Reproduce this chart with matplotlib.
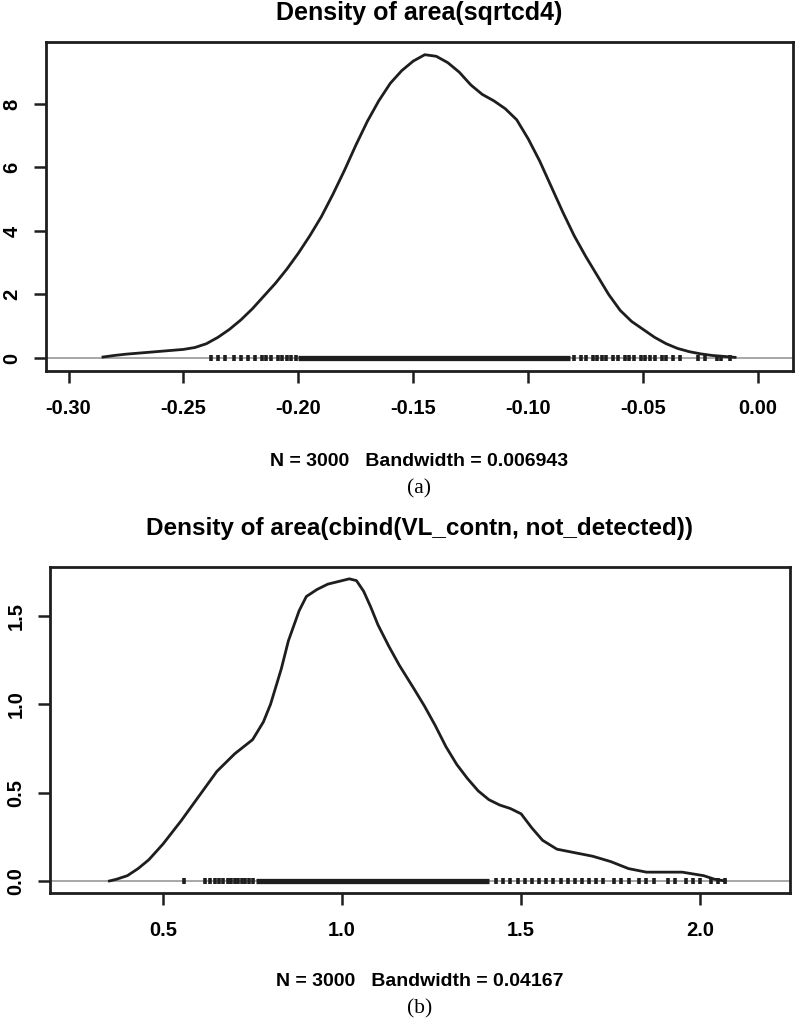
import matplotlib
matplotlib.use("Agg")
import matplotlib.pyplot as plt
import numpy as np

# ---------------- data ----------------
a_x = [-0.285, -0.28, -0.275, -0.27, -0.265, -0.26, -0.255, -0.25, -0.245, -0.24,
       -0.235, -0.23, -0.225, -0.22, -0.215, -0.21, -0.205, -0.20, -0.195, -0.19,
       -0.185, -0.18, -0.175, -0.17, -0.165, -0.16, -0.155, -0.15, -0.145, -0.14,
       -0.135, -0.13, -0.125, -0.12, -0.115, -0.11, -0.105, -0.10, -0.095, -0.09,
       -0.085, -0.08, -0.075, -0.07, -0.065, -0.06, -0.055, -0.05, -0.045, -0.04,
       -0.035, -0.03, -0.025, -0.02, -0.015, -0.01]
a_y = [0.03, 0.08, 0.12, 0.15, 0.18, 0.21, 0.24, 0.27, 0.33, 0.45,
       0.65, 0.90, 1.20, 1.55, 1.95, 2.35, 2.80, 3.30, 3.85, 4.45,
       5.15, 5.90, 6.70, 7.45, 8.10, 8.65, 9.05, 9.35, 9.55, 9.50,
       9.30, 9.00, 8.60, 8.30, 8.10, 7.85, 7.50, 6.90, 6.20, 5.40,
       4.60, 3.85, 3.20, 2.60, 2.00, 1.50, 1.15, 0.90, 0.65, 0.45,
       0.30, 0.20, 0.13, 0.08, 0.05, 0.02]
a_rug_dense = (-0.200, -0.082)
a_rug_sparse = [-0.238, -0.235, -0.232, -0.228, -0.225, -0.222, -0.219, -0.216,
                -0.214, -0.212, -0.209, -0.207, -0.205, -0.203, -0.201,
                -0.080, -0.077, -0.075, -0.072, -0.070, -0.068, -0.066, -0.063,
                -0.061, -0.058, -0.056, -0.054, -0.051, -0.049, -0.047, -0.045,
                -0.042, -0.040, -0.037, -0.034, -0.026, -0.023, -0.018, -0.016,
                -0.012]
a_xticks = [-0.30, -0.25, -0.20, -0.15, -0.10, -0.05, 0.00]
a_xticklabels = ["-0.30", "-0.25", "-0.20", "-0.15", "-0.10", "-0.05", "0.00"]
a_yticks = [0, 2, 4, 6, 8]
a_yticklabels = ["0", "2", "4", "6", "8"]
a_title = "Density of area(sqrtcd4)"
a_xlabel = "N = 3000   Bandwidth = 0.006943"
a_caption = "(a)"

b_x = [0.35, 0.37, 0.40, 0.43, 0.46, 0.50, 0.55, 0.60, 0.65, 0.70,
       0.75, 0.78, 0.80, 0.83, 0.85, 0.88, 0.90, 0.93, 0.96, 1.00,
       1.02, 1.04, 1.06, 1.08, 1.10, 1.13, 1.16, 1.20, 1.23, 1.26,
       1.29, 1.32, 1.35, 1.38, 1.41, 1.44, 1.47, 1.50, 1.53, 1.56,
       1.60, 1.65, 1.70, 1.75, 1.80, 1.85, 1.90, 1.95, 1.98, 2.01,
       2.04, 2.07]
b_y = [0.00, 0.01, 0.03, 0.07, 0.12, 0.21, 0.34, 0.48, 0.62, 0.72,
       0.80, 0.90, 1.00, 1.20, 1.36, 1.53, 1.61, 1.65, 1.68, 1.70,
       1.71, 1.70, 1.64, 1.55, 1.45, 1.33, 1.22, 1.09, 0.99, 0.88,
       0.76, 0.66, 0.58, 0.51, 0.46, 0.43, 0.41, 0.38, 0.30, 0.23,
       0.18, 0.16, 0.14, 0.11, 0.07, 0.05, 0.05, 0.05, 0.04, 0.03,
       0.01, 0.00]
b_rug_dense = (0.76, 1.41)
b_rug_sparse = [0.559, 0.617, 0.630, 0.645, 0.655, 0.668, 0.680, 0.690, 0.700,
                0.710, 0.720, 0.730, 0.740, 0.750,
                1.43, 1.45, 1.47, 1.49, 1.51, 1.53, 1.55, 1.57, 1.59, 1.61,
                1.63, 1.65, 1.67, 1.69, 1.71, 1.73, 1.76, 1.78, 1.80, 1.83,
                1.85, 1.87, 1.91, 1.93, 1.96, 1.98, 2.00, 2.03, 2.05, 2.07]
b_xticks = [0.5, 1.0, 1.5, 2.0]
b_xticklabels = ["0.5", "1.0", "1.5", "2.0"]
b_yticks = [0.0, 0.5, 1.0, 1.5]
b_yticklabels = ["0.0", "0.5", "1.0", "1.5"]
b_title = "Density of area(cbind(VL_contn, not_detected))"
b_xlabel = "N = 3000   Bandwidth = 0.04167"
b_caption = "(b)"

# ---------------- style ----------------
SANS = ["Liberation Sans", "DejaVu Sans"]
SERIF = ["Liberation Serif", "DejaVu Serif"]
INK = "#1e1e1e"

fig = plt.figure(figsize=(7.96, 10.24), dpi=100)


def panel(rect, xs, ys, dense, sparse, xt, xtl, yt, ytl, xlim, ylim,
          title, xlabel, caption, title_y, xlabel_y, cap_y, title_size):
    ax = fig.add_axes(rect)
    ax.axhline(0, color="#a0a0a0", lw=1.3, zorder=1)
    ax.plot(xs, ys, color=INK, lw=2.0, solid_joinstyle="round", zorder=3)
    ax.plot(list(dense), [0, 0], color=INK, lw=3.8, solid_capstyle="butt", zorder=2)
    ax.plot(sparse, np.zeros(len(sparse)), ls="none", marker="|", ms=4.5,
            mew=2.6, color=INK, zorder=2)
    ax.set_xlim(*xlim)
    ax.set_ylim(*ylim)
    ax.set_xticks(xt)
    ax.set_xticklabels(xtl, family=SANS, fontsize=14.5, fontweight="bold")
    ax.set_yticks(yt)
    ax.set_yticklabels(ytl, family=SANS, fontsize=14.5, fontweight="bold",
                       rotation=90, va="center")
    ax.tick_params(axis="both", direction="out", length=8.5, width=1.8,
                   color=INK)
    ax.tick_params(axis="x", pad=12)
    ax.tick_params(axis="y", pad=9)
    for s in ax.spines.values():
        s.set_linewidth(2.0)
        s.set_color(INK)
    cx = rect[0] + rect[2] / 2
    fig.text(cx, title_y, title, ha="center", va="center", family=SANS,
             fontsize=title_size, fontweight="bold", color="black")
    fig.text(cx, xlabel_y, xlabel, ha="center", va="center", family=SANS,
             fontsize=14, fontweight="bold", color="black")
    fig.text(cx, cap_y, caption, ha="center", va="center", family=SERIF,
             fontsize=15.5, color="black")
    return ax


H = 1024.0
panel([46 / 796, 1 - 371 / H, (793 - 46) / 796, (371 - 42) / H],
      a_x, a_y, a_rug_dense, a_rug_sparse, a_xticks, a_xticklabels,
      a_yticks, a_yticklabels, (-0.3098, 0.0152), (-0.41, 9.95),
      a_title, a_xlabel, a_caption,
      1 - 13 / H, 1 - 462 / H, 1 - 489 / H, 18)

panel([50 / 796, 1 - 893 / H, (790 - 50) / 796, (893 - 567) / H],
      b_x, b_y, b_rug_dense, b_rug_sparse, b_xticks, b_xticklabels,
      b_yticks, b_yticklabels, (0.184, 2.251), (-0.068, 1.777),
      b_title, b_xlabel, b_caption,
      1 - 528 / H, 1 - 981 / H, 1 - 1009 / H, 17.5)

fig.savefig("out.png", dpi=100)
